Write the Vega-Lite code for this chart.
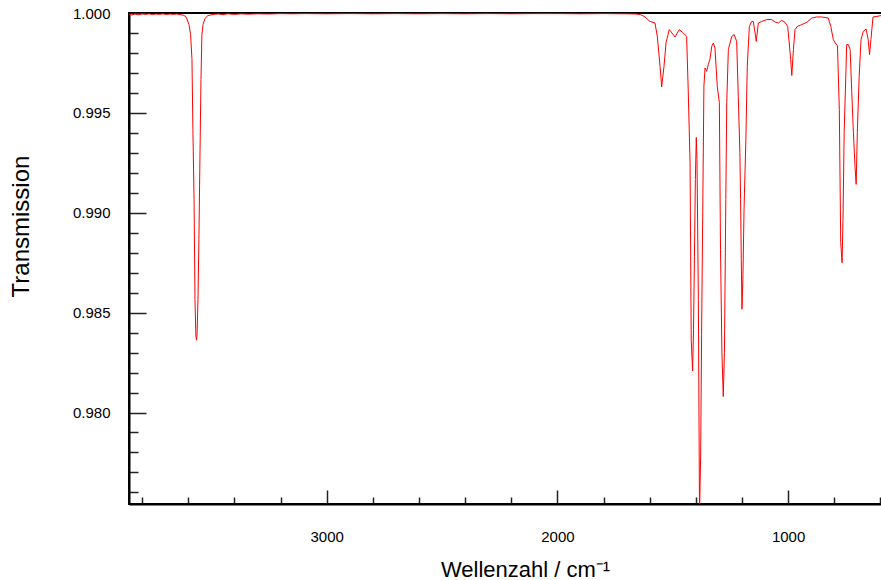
{
  "$schema": "https://vega.github.io/schema/vega-lite/v6.json",
  "autosize": {"type": "none"},
  "padding": {"left": 129, "top": 13, "right": 0, "bottom": 76},
  "width": 753,
  "height": 491,
  "background": "white",
  "view": {"stroke": "black", "strokeWidth": 2},
  "config": {
    "font": "Liberation Sans",
    "axis": {
      "grid": false,
      "domainColor": "black",
      "domainWidth": 2,
      "tickColor": "#222222",
      "tickWidth": 1.5,
      "labelFont": "Liberation Sans",
      "labelFontSize": 15,
      "labelColor": "black",
      "titleFont": "Liberation Sans",
      "titleFontWeight": "normal",
      "titleColor": "black"
    }
  },
  "data": {
    "values": [
      {"w": 3857, "t": 0.99994}, {"w": 3845, "t": 0.9999}, {"w": 3830, "t": 0.99995}, {"w": 3815, "t": 0.99991},
      {"w": 3800, "t": 0.99996}, {"w": 3785, "t": 0.99993}, {"w": 3770, "t": 0.99996}, {"w": 3755, "t": 0.99992},
      {"w": 3740, "t": 0.99995}, {"w": 3725, "t": 0.99993}, {"w": 3710, "t": 0.99996}, {"w": 3695, "t": 0.99992},
      {"w": 3680, "t": 0.99995}, {"w": 3665, "t": 0.99993}, {"w": 3650, "t": 0.99995}, {"w": 3636, "t": 0.99992},
      {"w": 3622, "t": 0.99989}, {"w": 3610, "t": 0.99982}, {"w": 3597, "t": 0.99942}, {"w": 3590, "t": 0.99892},
      {"w": 3584, "t": 0.99767}, {"w": 3580, "t": 0.99417}, {"w": 3575, "t": 0.99067}, {"w": 3571, "t": 0.98567},
      {"w": 3567, "t": 0.98382}, {"w": 3564, "t": 0.98362}, {"w": 3562, "t": 0.98392}, {"w": 3558, "t": 0.98567},
      {"w": 3554, "t": 0.98867}, {"w": 3549, "t": 0.99317}, {"w": 3545, "t": 0.99667}, {"w": 3541, "t": 0.99892},
      {"w": 3536, "t": 0.99942}, {"w": 3528, "t": 0.99972}, {"w": 3515, "t": 0.99987}, {"w": 3493, "t": 0.99993},
      {"w": 3470, "t": 0.99995}, {"w": 3450, "t": 0.99992}, {"w": 3430, "t": 0.99996}, {"w": 3400, "t": 0.99993},
      {"w": 3370, "t": 0.99996}, {"w": 3340, "t": 0.99994}, {"w": 3300, "t": 0.99996}, {"w": 3250, "t": 0.99995},
      {"w": 3200, "t": 0.99997}, {"w": 3150, "t": 0.99996}, {"w": 3100, "t": 0.99997}, {"w": 3000, "t": 0.99996},
      {"w": 2900, "t": 0.99997}, {"w": 2800, "t": 0.99996}, {"w": 2700, "t": 0.99997}, {"w": 2600, "t": 0.99996},
      {"w": 2500, "t": 0.99997}, {"w": 2400, "t": 0.99996}, {"w": 2300, "t": 0.99997}, {"w": 2200, "t": 0.99996},
      {"w": 2100, "t": 0.99997}, {"w": 2000, "t": 0.99997}, {"w": 1900, "t": 0.99996}, {"w": 1800, "t": 0.99997},
      {"w": 1700, "t": 0.99996}, {"w": 1660, "t": 0.99995}, {"w": 1640, "t": 0.99992}, {"w": 1620, "t": 0.9998},
      {"w": 1599, "t": 0.99958}, {"w": 1577, "t": 0.9995}, {"w": 1567, "t": 0.99883}, {"w": 1555, "t": 0.99733},
      {"w": 1548, "t": 0.9963}, {"w": 1538, "t": 0.99733}, {"w": 1529, "t": 0.99852}, {"w": 1515, "t": 0.99917},
      {"w": 1490, "t": 0.9988}, {"w": 1472, "t": 0.99917}, {"w": 1454, "t": 0.999}, {"w": 1440, "t": 0.99883},
      {"w": 1433, "t": 0.99617}, {"w": 1425, "t": 0.99252}, {"w": 1420, "t": 0.98367}, {"w": 1414, "t": 0.98208},
      {"w": 1410, "t": 0.98417}, {"w": 1406, "t": 0.98782}, {"w": 1402, "t": 0.99167}, {"w": 1398, "t": 0.99377},
      {"w": 1395, "t": 0.99267}, {"w": 1389, "t": 0.98567}, {"w": 1384, "t": 0.9748}, {"w": 1379, "t": 0.97792},
      {"w": 1375, "t": 0.98392}, {"w": 1370, "t": 0.99008}, {"w": 1365, "t": 0.99633}, {"w": 1360, "t": 0.99725},
      {"w": 1353, "t": 0.99708}, {"w": 1346, "t": 0.99742}, {"w": 1339, "t": 0.99767}, {"w": 1331, "t": 0.99833},
      {"w": 1324, "t": 0.9985}, {"w": 1317, "t": 0.99825}, {"w": 1307, "t": 0.99633}, {"w": 1298, "t": 0.99552},
      {"w": 1293, "t": 0.98817}, {"w": 1287, "t": 0.98302}, {"w": 1281, "t": 0.9808}, {"w": 1276, "t": 0.98302},
      {"w": 1270, "t": 0.99067}, {"w": 1266, "t": 0.99552}, {"w": 1259, "t": 0.99817}, {"w": 1244, "t": 0.99883},
      {"w": 1234, "t": 0.99892}, {"w": 1223, "t": 0.99858}, {"w": 1216, "t": 0.99583}, {"w": 1209, "t": 0.99302},
      {"w": 1206, "t": 0.99067}, {"w": 1203, "t": 0.98767}, {"w": 1200, "t": 0.98517}, {"w": 1196, "t": 0.98667},
      {"w": 1191, "t": 0.99017}, {"w": 1183, "t": 0.99367}, {"w": 1177, "t": 0.99733}, {"w": 1168, "t": 0.99933},
      {"w": 1158, "t": 0.99958}, {"w": 1151, "t": 0.99958}, {"w": 1143, "t": 0.999}, {"w": 1138, "t": 0.99858},
      {"w": 1129, "t": 0.9995}, {"w": 1114, "t": 0.99958}, {"w": 1093, "t": 0.99967}, {"w": 1071, "t": 0.99967},
      {"w": 1057, "t": 0.99955}, {"w": 1042, "t": 0.9995}, {"w": 1028, "t": 0.99963}, {"w": 1013, "t": 0.99953},
      {"w": 1002, "t": 0.99933}, {"w": 995, "t": 0.9985}, {"w": 989, "t": 0.99767}, {"w": 984, "t": 0.99687},
      {"w": 977, "t": 0.99817}, {"w": 970, "t": 0.99917}, {"w": 960, "t": 0.99933}, {"w": 941, "t": 0.99942},
      {"w": 919, "t": 0.99953}, {"w": 897, "t": 0.99975}, {"w": 876, "t": 0.9998}, {"w": 854, "t": 0.9998},
      {"w": 826, "t": 0.99975}, {"w": 815, "t": 0.99933}, {"w": 804, "t": 0.99867}, {"w": 796, "t": 0.9985},
      {"w": 786, "t": 0.99837}, {"w": 778, "t": 0.99517}, {"w": 772, "t": 0.98852}, {"w": 766, "t": 0.9875},
      {"w": 762, "t": 0.98967}, {"w": 757, "t": 0.99402}, {"w": 746, "t": 0.99842}, {"w": 739, "t": 0.99842},
      {"w": 731, "t": 0.99817}, {"w": 724, "t": 0.99602}, {"w": 717, "t": 0.99402}, {"w": 710, "t": 0.99232},
      {"w": 705, "t": 0.99142}, {"w": 700, "t": 0.99402}, {"w": 692, "t": 0.99682}, {"w": 684, "t": 0.99867},
      {"w": 674, "t": 0.99908}, {"w": 662, "t": 0.9992}, {"w": 653, "t": 0.99867}, {"w": 647, "t": 0.99792},
      {"w": 641, "t": 0.99867}, {"w": 632, "t": 0.9998}, {"w": 615, "t": 0.99983}, {"w": 598, "t": 0.99987},
      {"w": 593, "t": 0.99988}
    ]
  },
  "mark": {"type": "line", "color": "#ff0000", "strokeWidth": 1, "clip": true},
  "encoding": {
    "x": {
      "field": "w",
      "type": "quantitative",
      "scale": {"domain": [3857, 593], "nice": false, "zero": false},
      "axis": {
        "title": "Wellenzahl / cm⁻¹",
        "titleFontSize": 22,
        "titleX": 396,
        "titleY": 72,
        "titleBaseline": "alphabetic",
        "titleAnchor": "middle",
        "values": [600, 800, 1000, 1200, 1400, 1600, 1800, 2000, 2200, 2400, 2600, 2800, 3000, 3200, 3400, 3600, 3800],
        "format": "d",
        "labelExpr": "datum.value % 1000 === 0 ? datum.label : ''",
        "tickSize": {"condition": {"test": "datum.value % 1000 === 0", "value": -14}, "value": -7},
        "labelPadding": 39,
        "labelFlush": false,
        "labelOverlap": false
      }
    },
    "y": {
      "field": "t",
      "type": "quantitative",
      "scale": {"domain": [0.97542, 1.0], "nice": false, "zero": false},
      "axis": {
        "title": "Transmission",
        "titleFontSize": 24,
        "titleX": -108,
        "titleY": 213,
        "titleBaseline": "middle",
        "titleAngle": -90,
        "titleAnchor": "middle",
        "values": [0.976, 0.977, 0.978, 0.979, 0.98, 0.981, 0.982, 0.983, 0.984, 0.985, 0.986, 0.987, 0.988, 0.989, 0.99, 0.991, 0.992, 0.993, 0.994, 0.995, 0.996, 0.997, 0.998, 0.999, 1.0],
        "labelExpr": "round(datum.value * 1000) % 5 === 0 ? format(datum.value, '.3f') : ''",
        "tickSize": {"condition": {"test": "round(datum.value * 1000) % 5 === 0", "value": -17}, "value": -9},
        "labelPadding": 36,
        "labelFlush": false,
        "labelOverlap": false
      }
    }
  }
}
